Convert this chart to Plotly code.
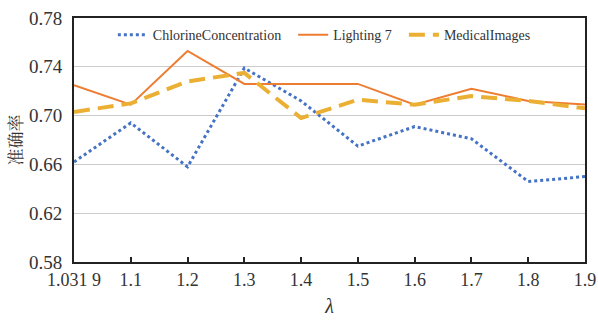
import plotly.graph_objects as go

x_labels = ["1.031 9", "1.1", "1.2", "1.3", "1.4", "1.5", "1.6", "1.7", "1.8", "1.9"]
chlorine = [0.662, 0.694, 0.658, 0.739, 0.712, 0.675, 0.691, 0.681, 0.646, 0.650]
lighting7 = [0.725, 0.709, 0.753, 0.726, 0.726, 0.726, 0.709, 0.722, 0.712, 0.709]
medical = [0.703, 0.710, 0.728, 0.735, 0.698, 0.713, 0.709, 0.716, 0.712, 0.706]
y_ticks = [0.58, 0.62, 0.66, 0.70, 0.74, 0.78]
series_names = ["ChlorineConcentration", "Lighting 7", "MedicalImages"]

xs = list(range(len(x_labels)))
serif = "Liberation Serif"
pad = "\u00a0\u00a0"

fig = go.Figure()
fig.add_trace(go.Scatter(x=xs, y=chlorine, mode="lines", name=series_names[0] + pad,
                         line=dict(color="#4472C4", width=3, dash="dot")))
fig.add_trace(go.Scatter(x=xs, y=lighting7, mode="lines", name=series_names[1] + pad,
                         line=dict(color="#ED7D31", width=2)))
fig.add_trace(go.Scatter(x=xs, y=medical, mode="lines", name=series_names[2],
                         line=dict(color="#EBB033", width=4, dash="16px,8px")))

fig.update_layout(
    width=598, height=320,
    margin=dict(l=74, r=13, t=18, b=58, autoexpand=False),
    paper_bgcolor="white", plot_bgcolor="white",
    font=dict(family=serif, color="#333333"),
    showlegend=True,
    legend=dict(orientation="h", x=0.076, y=0.995, xanchor="left", yanchor="top",
                font=dict(family=serif, size=14, color="#333333"),
                bgcolor="rgba(0,0,0,0)", itemwidth=30, tracegroupgap=0),
    xaxis=dict(range=[0, 9], tickmode="array", tickvals=xs, ticktext=x_labels,
               showline=True, linecolor="#222222", linewidth=2, mirror=True,
               ticks="inside", ticklen=5, tickwidth=2, tickcolor="#222222",
               showgrid=False, zeroline=False, automargin=False,
               tickfont=dict(family=serif, size=18, color="#333333"),
               title=dict(text="<i>λ</i>", font=dict(family=serif, size=20, color="#333333"), standoff=10)),
    yaxis=dict(range=[0.58, 0.78], tickmode="array", tickvals=y_ticks,
               ticktext=[f"{v:.2f}" for v in y_ticks],
               showline=True, linecolor="#222222", linewidth=2, mirror=True,
               ticks="", showgrid=True, gridcolor="#CCCCCC", gridwidth=1, zeroline=False,
               ticklabelstandoff=6, automargin=False,
               tickfont=dict(family=serif, size=19, color="#333333"),
               title=dict(text="准确率", font=dict(family="Noto Serif CJK SC, Noto Sans CJK SC", size=17, color="#333333"), standoff=2)),
)

fig.write_html("out.html", config={"displayModeBar": False},
               post_script="document.body.style.margin='0';document.body.style.overflow='hidden';")
